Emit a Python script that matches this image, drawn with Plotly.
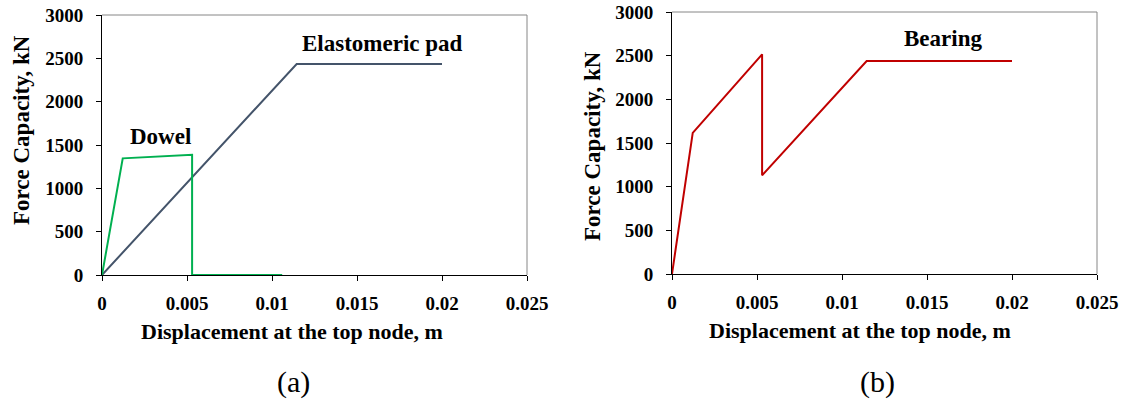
import plotly.graph_objects as go

# Data
dowel_x = [0, 0.00122, 0.0053, 0.0053, 0.0106]
dowel_y = [0, 1346, 1388, 0, 0]
pad_x = [0, 0.01145, 0.0200]
pad_y = [0, 2435, 2435]
bearing_x = [0, 0.00122, 0.0053, 0.0053, 0.01145, 0.0200]
bearing_y = [0, 1615, 2515, 1130, 2438, 2438]

x_ticks = [0, 0.005, 0.01, 0.015, 0.02, 0.025]
x_ticklabels = ["0", "0.005", "0.01", "0.015", "0.02", "0.025"]
y_ticks = [0, 500, 1000, 1500, 2000, 2500, 3000]
y_ticklabels = ["0", "500", "1000", "1500", "2000", "2500", "3000"]

FONT = "Liberation Serif"
W, H = 1125, 407
OFF = 0  # body margin removed by post_script

fig = go.Figure()
fig.add_trace(go.Scatter(x=pad_x, y=pad_y, mode="lines", line=dict(color="#44546A", width=2),
                         xaxis="x", yaxis="y", showlegend=False))
fig.add_trace(go.Scatter(x=dowel_x, y=dowel_y, mode="lines", line=dict(color="#00B050", width=2),
                         xaxis="x", yaxis="y", showlegend=False))
fig.add_trace(go.Scatter(x=bearing_x, y=bearing_y, mode="lines", line=dict(color="#C00000", width=2),
                         xaxis="x2", yaxis="y2", showlegend=False))

def px_x(p):
    return (p - OFF) / W

def px_y(p):
    return 1 - (p - OFF) / H

xcommon = dict(range=[0, 0.025], tickvals=x_ticks, ticktext=["<b>%s</b>" % t for t in x_ticklabels],
               showgrid=False, automargin=False, ticklabeloverflow="allow",
               zeroline=False, showline=True, linecolor="#000000", linewidth=1,
               ticks="outside", ticklen=5, tickcolor="#000000", ticklabelstandoff=6,
               tickfont=dict(family=FONT, size=19, color="#000000"))
ycommon = dict(range=[0, 3000], tickvals=y_ticks, ticktext=["<b>%s</b>" % t for t in y_ticklabels],
               showgrid=False, automargin=False, ticklabeloverflow="allow",
               zeroline=False, showline=True, linecolor="#000000", linewidth=1,
               ticks="outside", ticklen=5, tickcolor="#000000", ticklabelstandoff=9,
               tickfont=dict(family=FONT, size=19, color="#000000"))

fig.update_layout(
    width=W, height=H,
    margin=dict(l=0, r=0, t=0, b=0, autoexpand=False),
    paper_bgcolor="white", plot_bgcolor="white",
    font=dict(family=FONT, color="#000000"),
    hovermode=False,
    xaxis=dict(domain=[px_x(102), px_x(527)], anchor="y", **xcommon),
    yaxis=dict(domain=[px_y(275), px_y(15)], anchor="x", **ycommon),
    xaxis2=dict(domain=[px_x(672), px_x(1097)], anchor="y2", **xcommon),
    yaxis2=dict(domain=[px_y(274), px_y(12)], anchor="x2", **ycommon),
)

# grey top/right frame
for xr, yr in [("x domain", "y domain"), ("x2 domain", "y2 domain")]:
    fig.add_shape(type="line", xref=xr, yref=yr, x0=0, x1=1, y0=1, y1=1,
                  line=dict(color="#868686", width=1))
    fig.add_shape(type="line", xref=xr, yref=yr, x0=1, x1=1, y0=0, y1=1,
                  line=dict(color="#868686", width=1))

def text_at(x, y, text, size, angle=0):
    fig.add_annotation(x=px_x(x), y=px_y(y), xref="paper", yref="paper", text=text,
                       showarrow=False, textangle=angle, xanchor="center", yanchor="middle",
                       font=dict(family=FONT, size=size, color="#000000"))

# axis titles
text_at(292, 331, "<b>Displacement at the top node, m</b>", 22)
text_at(860, 330, "<b>Displacement at the top node, m</b>", 22)
text_at(21, 130, "<b>Force Capacity, kN</b>", 23, -90)
text_at(592, 146, "<b>Force Capacity, kN</b>", 23, -90)

# curve labels
text_at(160, 136, "<b>Dowel</b>", 23)
text_at(382, 43, "<b>Elastomeric pad</b>", 23)
text_at(943, 39, "<b>Bearing</b>", 23)

# panel labels
text_at(293, 382, "(a)", 30)
text_at(877, 382, "(b)", 30)

fig.write_html("out.html", config={"displayModeBar": False, "staticPlot": True},
               post_script="document.body.style.margin='0';document.body.style.overflow='hidden';")
